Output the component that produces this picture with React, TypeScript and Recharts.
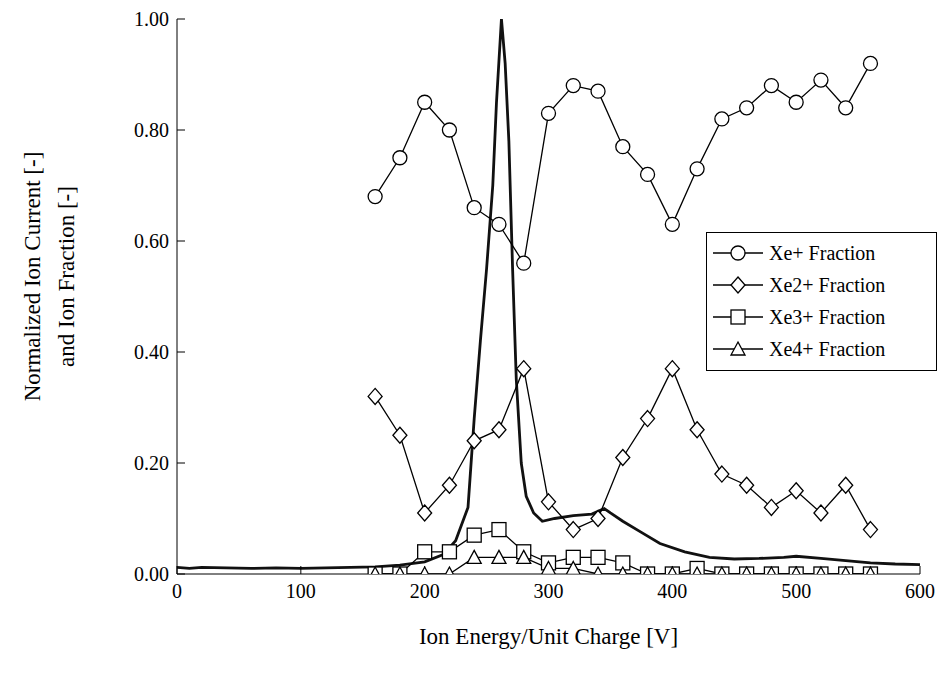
import React from "react";
import { LineChart, Line, XAxis, YAxis } from "recharts";

const energies = [160,180,200,220,240,260,280,300,320,340,360,380,400,420,440,460,480,500,520,540,560];
const xe1 = [0.68,0.75,0.85,0.80,0.66,0.63,0.56,0.83,0.88,0.87,0.77,0.72,0.63,0.73,0.82,0.84,0.88,0.85,0.89,0.84,0.92];
const xe2 = [0.32,0.25,0.11,0.16,0.24,0.26,0.37,0.13,0.08,0.10,0.21,0.28,0.37,0.26,0.18,0.16,0.12,0.15,0.11,0.16,0.08];
const xe3 = [0,0,0.04,0.04,0.07,0.08,0.04,0.02,0.03,0.03,0.02,0,0,0.01,0,0,0,0,0,0,0];
const xe4 = [0,0,0,0,0.03,0.03,0.03,0.01,0.01,0,0,0,0,0,0,0,0,0,0,0,0];

const curX = [0,10,20,40,60,80,100,120,140,160,180,200,215,225,235,240,245,250,255,258,262,265,268,271,274,278,282,288,295,305,320,335,345,350,360,375,390,410,430,450,470,490,500,520,540,560,580,600];
const curY = [0.012,0.01,0.012,0.011,0.01,0.011,0.01,0.011,0.012,0.013,0.016,0.022,0.035,0.06,0.12,0.28,0.42,0.55,0.7,0.85,1.0,0.92,0.78,0.55,0.35,0.2,0.14,0.11,0.095,0.1,0.105,0.108,0.118,0.11,0.095,0.075,0.055,0.04,0.03,0.027,0.028,0.03,0.032,0.028,0.024,0.02,0.018,0.017];

const xTicks = [0,100,200,300,400,500,600];
const yTicks = [0,0.2,0.4,0.6,0.8,1.0];

const mk = (ys: number[]) => energies.map((x, i) => ({ x, y: ys[i] }));
const curData = curX.map((x, i) => ({ x, y: curY[i] }));

const Marker = ({ cx, cy, shape }: any) => {
  if (cx == null || cy == null) return null;
  const p = { fill: "#fff", stroke: "#000", strokeWidth: 1.3 };
  if (shape === "circle") return <circle cx={cx} cy={cy} r={7} {...p} />;
  if (shape === "diamond") return <polygon points={`${cx},${cy-8} ${cx+7},${cy} ${cx},${cy+8} ${cx-7},${cy}`} {...p} />;
  if (shape === "square") return <rect x={cx-7} y={cy-7} width={14} height={14} {...p} />;
  return <polygon points={`${cx},${cy-7} ${cx+7},${cy+6} ${cx-7},${cy+6}`} {...p} />;
};

const series = [
  { name: "Xe+ Fraction", data: xe1, shape: "circle" },
  { name: "Xe2+ Fraction", data: xe2, shape: "diamond" },
  { name: "Xe3+ Fraction", data: xe3, shape: "square" },
  { name: "Xe4+ Fraction", data: xe4, shape: "triangle" },
];

const font = "Times New Roman";

export default function App() {
  return (
    <div style={{ position: "absolute", left: 0, top: 0, width: 946, height: 677, background: "#fff", fontFamily: font }}>
      <LineChart width={946} height={677} margin={{ top: 19, right: 26, bottom: 73, left: 87 }} style={{ fontFamily: font }}>
        <XAxis type="number" dataKey="x" domain={[0, 600]} ticks={xTicks} allowDataOverflow height={30}
          tick={{ fontSize: 20, fill: "#000", fontFamily: font }} stroke="#000" tickSize={-8} tickMargin={18}
          label={{ value: "Ion Energy/Unit Charge [V]", position: "insideBottom", offset: -40, fontSize: 23, fill: "#000", fontFamily: font }} />
        <YAxis type="number" dataKey="y" domain={[0, 1]} ticks={yTicks} allowDataOverflow width={90}
          tickFormatter={(v: number) => v.toFixed(2)}
          tick={{ fontSize: 20, fill: "#000", fontFamily: font }} stroke="#000" tickSize={-8} tickMargin={16}
          label={({ viewBox }: any) => {
            const cx = 44, cy = viewBox.y + viewBox.height / 2 - 20;
            return (
              <text transform={`rotate(-90 ${cx} ${cy})`} x={cx} y={cy} textAnchor="middle" fontSize={23} fontFamily={font} fill="#000">
                <tspan x={cx} dy={-4}>Normalized Ion Current [-]</tspan>
                <tspan x={cx} dy={34}>and Ion Fraction [-]</tspan>
              </text>
            );
          }} />
        <Line data={curData} dataKey="y" stroke="#111" strokeWidth={2.8} dot={false} isAnimationActive={false} />
        {series.map((s) => (
          <Line key={s.name} data={mk(s.data)} dataKey="y" stroke="#000" strokeWidth={1.3}
            dot={(props: any) => <Marker key={props.index} {...props} shape={s.shape} />} isAnimationActive={false} />
        ))}
      </LineChart>
      <div style={{ position: "absolute", left: 706, top: 232, width: 229, height: 137, border: "1.5px solid #000", background: "#fff" }}>
        <svg width={229} height={137} style={{ position: "absolute", left: 0, top: 0 }}>
          {series.map((s, i) => {
            const y = 20 + i * 32;
            return (
              <g key={s.name}>
                <line x1={6} x2={56} y1={y} y2={y} stroke="#000" strokeWidth={1.3} />
                <Marker cx={31} cy={y} shape={s.shape} />
                <text x={62} y={y + 7} fontSize={20} fontFamily={font} fill="#000">{s.name}</text>
              </g>
            );
          })}
        </svg>
      </div>
    </div>
  );
}
